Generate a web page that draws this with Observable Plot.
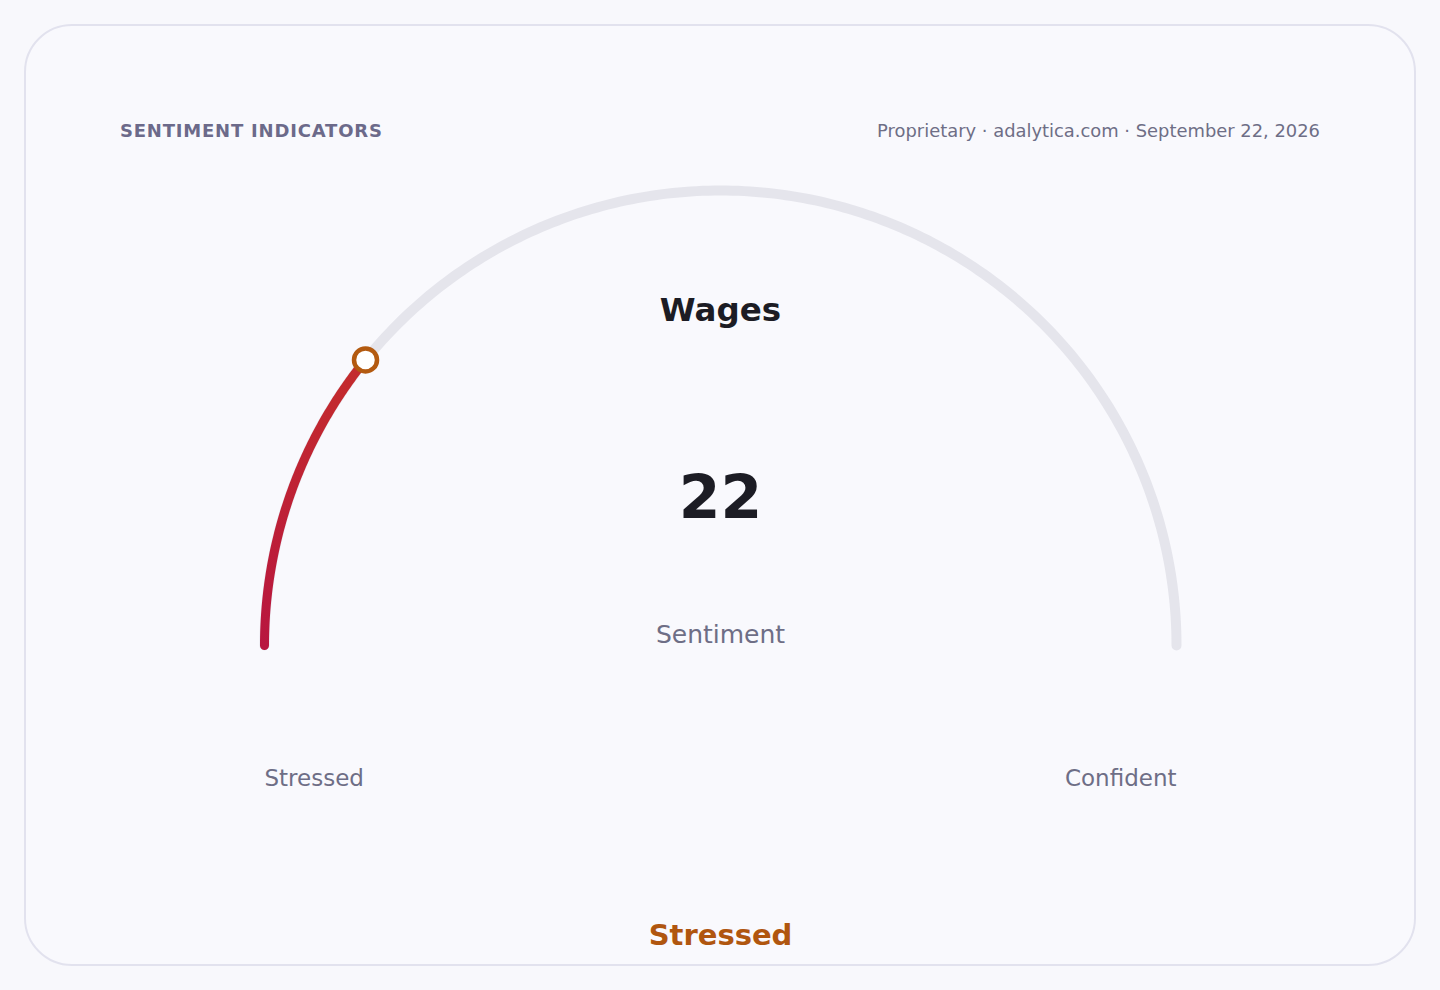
<!DOCTYPE html>
<html>
<head>
<meta charset="utf-8">
<script src="https://cdn.jsdelivr.net/npm/d3@7"></script>
<script src="https://cdn.jsdelivr.net/npm/@observablehq/plot@0.6"></script>
<style>
  html, body { margin: 0; padding: 0; background: #f8f8fc; }
  body { width: 1440px; height: 990px; position: relative; overflow: hidden; font-family: "DejaVu Sans", sans-serif; }
  #card { position: absolute; left: 24px; top: 24px; width: 1388px; height: 938px; border: 2px solid #e2e2ee; border-radius: 48px; background: #f9f9fd; }
  #kicker { position: absolute; left: 120px; top: 120px; font-size: 18px; font-weight: bold; letter-spacing: 0.8px; color: #6c6a8a; }
  #source { position: absolute; right: 120px; top: 120px; font-size: 17.9px; color: #6e6e86; }
  #chart { position: absolute; left: 0; top: 0; }
</style>
</head>
<body>
<div id="card"></div>
<div id="kicker"></div>
<div id="source"></div>
<div id="chart"></div>
<script>
// ---- data ----
const kicker = "SENTIMENT INDICATORS";
const source = "Proprietary · adalytica.com · September 22, 2026";
const title = "Wages";
const metricLabel = "Sentiment";
const value = 21.6;            // shown rounded
const scaleDomain = [0, 100];
const endLabels = ["Stressed", "Confident"];
const statusLabel = "Stressed";

document.getElementById("kicker").textContent = kicker;
document.getElementById("source").textContent = source;

// geometry: map a gauge value to a point on the unit half circle
const angle = v => Math.PI * (1 - (v - scaleDomain[0]) / (scaleDomain[1] - scaleDomain[0]));
const pt = v => ({x: Math.cos(angle(v)), y: Math.sin(angle(v)), v});
const arcPoints = (a, b, n = 240) => d3.range(n + 1).map(i => pt(a + (b - a) * i / n));

const track = arcPoints(scaleDomain[0], scaleDomain[1]);
const filled = arcPoints(scaleDomain[0], value, 120);
const marker = [pt(value)];
const labelY = -0.292;

const chart = Plot.plot({
  width: 1440,
  height: 990,
  marginLeft: 264,
  marginRight: 264,
  marginTop: 190,
  marginBottom: 345,
  x: {domain: [-1, 1], axis: null},
  y: {domain: [0, 1], axis: null},
  style: {background: "transparent", fontFamily: "DejaVu Sans, sans-serif", overflow: "visible"},
  marks: [
    Plot.line(track, {x: "x", y: "y", stroke: "#e5e5ec", strokeWidth: 10, strokeLinecap: "round", curve: "linear"}),
    Plot.line(filled, {x: "x", y: "y", stroke: "url(#gaugeGrad)", strokeWidth: 9, strokeLinecap: "round", curve: "linear"}),
    Plot.dot(marker, {x: "x", y: "y", r: 11.5, fill: "white", stroke: "#b35a10", strokeWidth: 4.5}),
    Plot.text([title], {x: [0], y: [0.735], text: d => d, fontSize: 32.5, fontWeight: "bold", fill: "#1c1c24"}),
    Plot.text([value], {x: [0], y: [0.322], text: d => String(Math.round(d)), fontSize: 60, fontWeight: "bold", fill: "#1c1c24"}),
    Plot.text([metricLabel], {x: [0], y: [0.024], text: d => d, fontSize: 25, fill: "#6e6e86"}),
    Plot.text([endLabels[0]], {x: [-1], y: [labelY], text: d => d, textAnchor: "start", fontSize: 23, fill: "#6e6e86"}),
    Plot.text([endLabels[1]], {x: [1], y: [labelY], text: d => d, textAnchor: "end", fontSize: 23, fill: "#6e6e86"}),
    Plot.text([statusLabel], {x: [0], y: [-0.637], text: d => d, fontSize: 29, fontWeight: "bold", fill: "#b0560f"})
  ]
});

// vertical gradient for the filled arc (bottom crimson to warmer red near the marker)
const ns = "http://www.w3.org/2000/svg";
const defs = document.createElementNS(ns, "defs");
const grad = document.createElementNS(ns, "linearGradient");
grad.setAttribute("id", "gaugeGrad");
grad.setAttribute("x1", "0"); grad.setAttribute("y1", "1");
grad.setAttribute("x2", "0"); grad.setAttribute("y2", "0");
[["0%", "#b8163f"], ["100%", "#c42c2c"]].forEach(([o, c]) => {
  const s = document.createElementNS(ns, "stop");
  s.setAttribute("offset", o); s.setAttribute("stop-color", c);
  grad.appendChild(s);
});
defs.appendChild(grad);
chart.insertBefore(defs, chart.firstChild);

document.getElementById("chart").appendChild(chart);
</script>
</body>
</html>
